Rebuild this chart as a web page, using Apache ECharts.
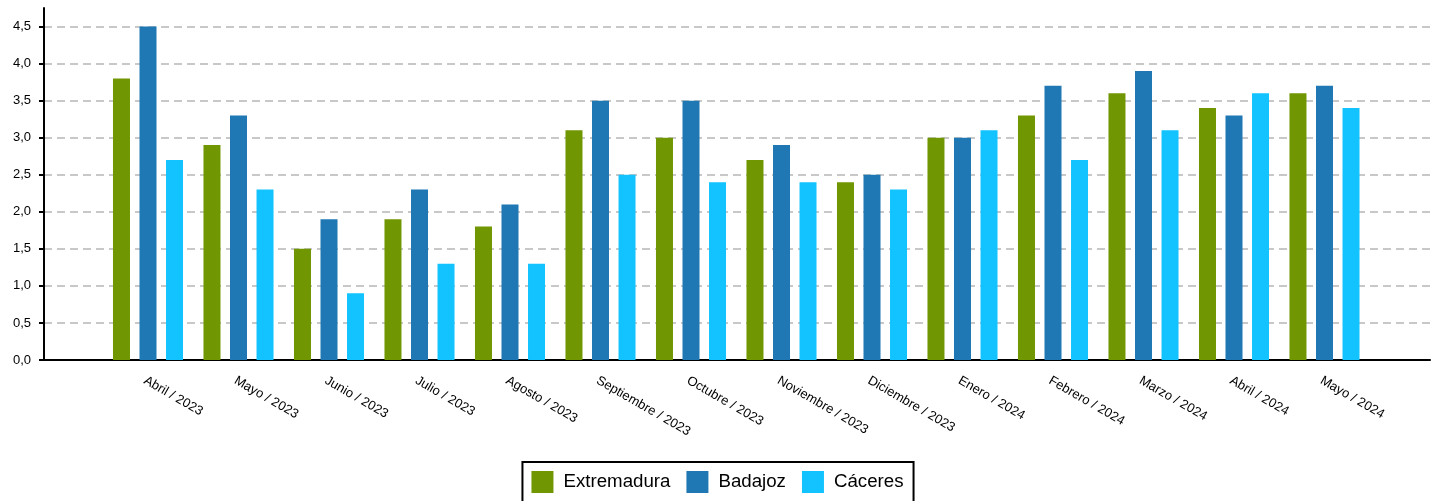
<!DOCTYPE html>
<html>
<head>
<meta charset="utf-8">
<script src="https://cdn.jsdelivr.net/npm/echarts@6/dist/echarts.min.js"></script>
<style>
html,body{margin:0;padding:0;background:#fff;}
#chart{width:1435px;height:501px;}
</style>
</head>
<body>
<div id="chart"></div>
<script>
const categories = ['Abril / 2023','Mayo / 2023','Junio / 2023','Julio / 2023','Agosto / 2023','Septiembre / 2023','Octubre / 2023','Noviembre / 2023','Diciembre / 2023','Enero / 2024','Febrero / 2024','Marzo / 2024','Abril / 2024','Mayo / 2024'];
const extremadura = [3.8,2.9,1.5,1.9,1.8,3.1,3.0,2.7,2.4,3.0,3.3,3.6,3.4,3.6];
const badajoz =     [4.5,3.3,1.9,2.3,2.1,3.5,3.5,2.9,2.5,3.0,3.7,3.9,3.3,3.7];
const caceres =     [2.7,2.3,0.9,1.3,1.3,2.5,2.4,2.4,2.3,3.1,2.7,3.1,3.6,3.4];
const seriesNames = ['Extremadura','Badajoz','Cáceres'];
const colors = ['#709601','#1f77b4','#12c3ff'];

const chart = echarts.init(document.getElementById('chart'));
const font = 'Liberation Sans, Arial, sans-serif';
const yCommon = {type:'value', min:0, max:4.75, interval:0.5};
chart.setOption({
  animation:false,
  textStyle:{fontFamily:font},
  grid:[
    {left:44, right:5, top:8, bottom:141},
    {left:102.75, right:65.25, top:8, bottom:141}
  ],
  xAxis:[
    {type:'category', gridIndex:0, data:[''], axisLine:{lineStyle:{color:'#000', width:2}}, axisTick:{show:false}, axisLabel:{show:false}, splitLine:{show:false}},
    {type:'category', gridIndex:1, data:categories, axisLine:{show:false}, axisTick:{show:false},
      axisLabel:{rotate:-30, fontSize:13, color:'#000', fontFamily:font, margin:14, interval:0, verticalAlign:'top'}}
  ],
  yAxis:[
    Object.assign({gridIndex:0,
      axisLine:{show:true, lineStyle:{color:'#000', width:2}},
      axisTick:{show:true, length:5, lineStyle:{color:'#000', width:2}},
      axisLabel:{fontSize:13, color:'#000', fontFamily:font, margin:13, showMaxLabel:false,
        formatter:v=>v.toFixed(1).replace('.',',')},
      splitLine:{show:true, showMaxLine:false, lineStyle:{color:'#c8c8c8', width:2, type:[8,5]}}
    }, yCommon),
    Object.assign({gridIndex:1, show:false, splitLine:{show:false}}, yCommon)
  ],
  legend:{
    data:seriesNames, left:'center', top:462, itemWidth:22, itemHeight:22, itemGap:16,
    icon:'rect', borderColor:'#000', borderWidth:2, padding:[9,10,9,9], borderRadius:0,
    textStyle:{fontSize:18.7, color:'#000', fontFamily:font, padding:[2,0,0,5]}
  },
  series:[
    {name:seriesNames[0], type:'bar', xAxisIndex:1, yAxisIndex:1, data:extremadura, barWidth:17, barGap:'56%', itemStyle:{color:colors[0]}},
    {name:seriesNames[1], type:'bar', xAxisIndex:1, yAxisIndex:1, data:badajoz, barWidth:17, barGap:'56%', itemStyle:{color:colors[1]}},
    {name:seriesNames[2], type:'bar', xAxisIndex:1, yAxisIndex:1, data:caceres, barWidth:17, barGap:'56%', itemStyle:{color:colors[2]}}
  ]
});
</script>
</body>
</html>
